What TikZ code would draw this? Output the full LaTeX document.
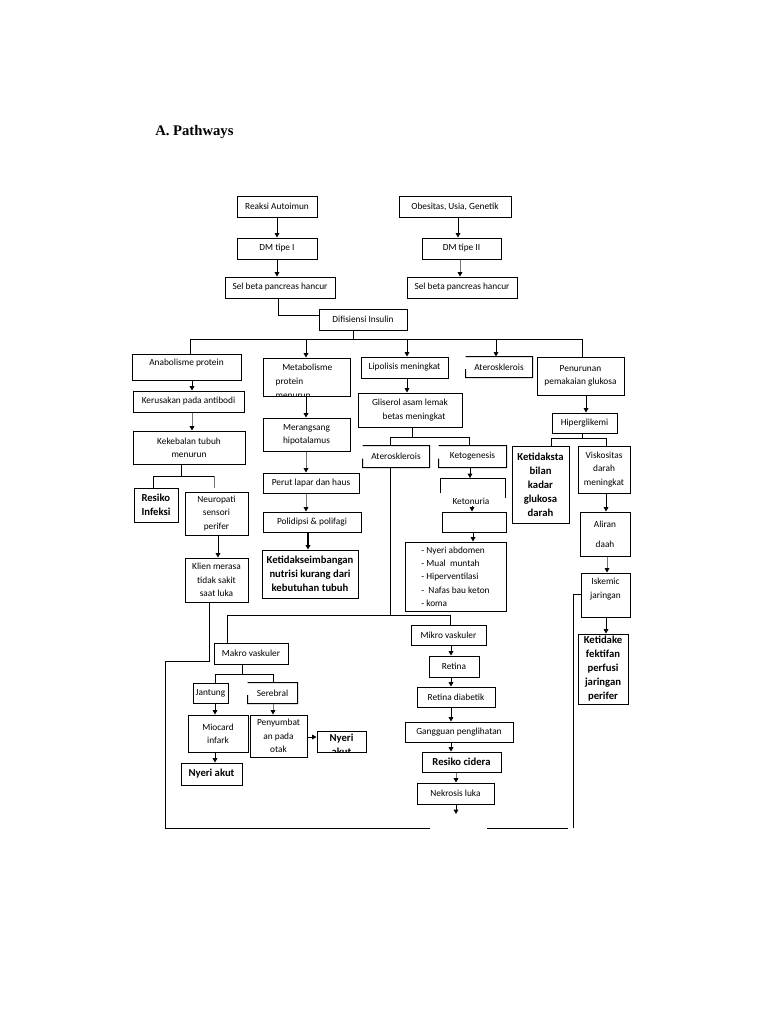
\documentclass[tikz,border=0pt]{standalone}
\usepackage{fontspec}
\setmainfont{Carlito}
\newfontfamily\titlefont{Liberation Serif}
\usetikzlibrary{arrows.meta,calc}
\tikzset{
  txt/.style={inner sep=1pt, align=center, font=\fontsize{7}{10}\selectfont},
  btxt/.style={inner sep=1pt, align=center, font=\bfseries\fontsize{8}{10.5}\selectfont},
  box/.style={txt, draw, line width=0.75pt},
  bbox/.style={box, font=\bfseries\fontsize{8}{10.5}\selectfont},
  ln/.style={line width=0.7pt},
  gln/.style={line width=0.7pt, draw=black!55},
  arr/.style={ln, -{Triangle[length=3.2pt,width=3.4pt]}},
  garr/.style={gln, -{Triangle[length=3.2pt,width=3.4pt,color=black]}},
}
% box with exact pixel extent: [opts]{name}{x1}{y1}{x2}{y2}{text}
\newcommand\bx[7][]{\node[box,minimum width={(#5-#3)*0.75pt},minimum height={(#6-#4)*0.75pt},#1] (#2) at ({(#3+#5)/2},{(#4+#6)/2}) {#7};}
% box with text shifted vertically by #7 px
\newcommand\bxt[8][]{\node[box,minimum width={(#5-#3)*0.75pt},minimum height={(#6-#4)*0.75pt}] (#2) at ({(#3+#5)/2},{(#4+#6)/2}) {};
  \node[txt,#1] (#2-t) at ({(#3+#5)/2},{(#4+#6)/2+#7}) {#8};}
% box drawn with only the lower part of its left side
\newcommand\opensides[1]{\draw[line width=0.75pt] ($(#1.south west)!0.4!(#1.north west)$) -- (#1.south west) -- (#1.south east) -- (#1.north east) -- (#1.north west);}
\begin{document}
\begin{tikzpicture}[x=0.75pt,y=-0.75pt]
\useasboundingbox (0,0) rectangle (768,1024);
\fill[white] (0,0) rectangle (768,1024);

\node[anchor=base west, inner sep=0, font=\titlefont\bfseries\fontsize{11}{13}\selectfont] (title) at (155,135) {A. Pathways};

% top
\bx{reaksi}{237}{196}{317}{217}{Reaksi Autoimun}
\bx{obes}{399}{196}{511}{217}{Obesitas, Usia, Genetik}
\bx{dm1}{237}{238}{317}{259}{DM tipe I}
\bx{dm2}{422}{238}{501}{259}{DM tipe II}
\bx{sel1}{225}{277}{335}{298}{Sel beta pancreas hancur}
\bx{sel2}{407}{277}{517}{298}{Sel beta pancreas hancur}
\bx{difis}{319}{309}{407}{330}{Difisiensi Insulin}

% second row
\bxt{anab}{132}{354}{241}{380}{-4}{Anabolisme protein}
\bx{metab}{263}{358}{350}{396}{}
\begin{scope}
\clip (263,358) rectangle (350,396);
\node[txt, align=left, anchor=north west] (metab-t) at (274,362) {\hspace*{5pt}Metabolisme\\[0.5pt]protein\\[0.5pt]menurun};
\end{scope}
\bx{lipo}{361}{357}{448}{378}{Lipolisis meningkat}
\bx[draw=none]{ater1}{466}{357}{532}{377}{Aterosklerois}
\opensides{ater1}
\bx{penur}{537}{357}{624}{395}{Penurunan\\pemakaian glukosa}

% left column
\bx{kerus}{133}{391}{244}{412}{Kerusakan pada antibodi}
\bx{kekeb}{133}{431}{245}{464}{Kekebalan tubuh\\menurun}
\bx[bbox, align=left]{resiko}{134}{488}{178}{522}{Resiko\\Infeksi}
\bx{neuro}{185}{492}{248}{535}{Neuropati\\sensori\\perifer}
\bx{klien}{185}{558}{248}{602}{Klien merasa\\tidak sakit\\saat luka}

% metabolism column
\bx{meran}{263}{418}{350}{451}{Merangsang\\hipotalamus}
\bx{perut}{263}{473}{359}{493}{Perut lapar dan haus}
\bx{poli}{263}{512}{361}{532}{Polidipsi \& polifagi}
\bx[bbox]{ketid}{262}{550}{358}{598}{Ketidakseimbangan\\nutrisi kurang dari\\kebutuhan tubuh}

% lipolysis column
\bx{glis}{358}{393}{462}{427}{Gliserol asam lemak\\\hspace*{6pt}betas meningkat}
\bx[draw=none]{ater2}{363}{446}{429}{467}{Aterosklerois}
\opensides{ater2}
\bx[draw=none]{keto}{439}{446}{506}{467}{Ketogenesis}
\opensides{keto}
\node[txt] (ketonuria) at (471,501) {Ketonuria};
\bx{ketobox}{442}{512}{506}{532}{}
\bx[align=left]{list}{405}{542}{506}{611}{- Nyeri abdomen\\- Mual\ \ muntah\\- Hiperventilasi\\-\ \ Nafas bau keton\\- koma}

% right column
\bx{hiper}{552}{413}{617}{433}{Hiperglikemi}
\bx[bbox]{kstab}{512}{446}{569}{523}{Ketidaksta\\bilan\\kadar\\glukosa\\darah}
\bx{visk}{578}{446}{630}{493}{Viskositas\\darah\\meningkat}
\bx{aliran}{580}{512}{630}{556}{Aliran\\[5pt]daah}
\bxt{iskem}{581}{573}{630}{617}{-6}{Iskemic\\jaringan}
\bx[bbox]{kefek}{578}{634}{628}{704}{Ketidake\\fektifan\\perfusi\\jaringan\\perifer}

% bottom middle
\bx{mikro}{411}{625}{486}{645}{Mikro vaskuler}
\bx{retina}{429}{656}{479}{677}{Retina}
\bx{retdb}{417}{687}{495}{707}{Retina diabetik}
\bx{gang}{405}{722}{513}{742}{Gangguan penglihatan}
\bx[bbox]{rcid}{422}{752}{501}{772}{Resiko cidera}
\bx{nekro}{417}{783}{494}{804}{Nekrosis luka}

% bottom left
\bx{makro}{214}{643}{288}{664}{Makro vaskuler}
\bx{jant}{193}{683}{228}{703}{Jantung}
\bx[draw=none]{sereb}{248}{683}{297}{703}{Serebral}
\opensides{sereb}
\bx{mioc}{188}{715}{248}{752}{Miocard\\infark}
\bx{peny}{250}{715}{307}{757}{Penyumbat\\an pada\\otak}
\bx[bbox]{nyeri1}{181}{763}{242}{785}{Nyeri akut}
\bx{nyeri2}{317}{731}{366}{752}{}
\begin{scope}
\clip (317,731) rectangle (366,752);
\node[btxt] (nyeri2-t) at (341.5,745) {Nyeri\\akut};
\end{scope}

% ---------- connectors ----------
\draw[arr] (reaksi) -- (dm1);
\draw[arr] (obes.south -| 458,0) -- (dm2.north -| 458,0);
\draw[arr] (dm1.south -| 277,0) -- (sel1.north -| 277,0);
\draw[garr] (dm2.south -| 460,0) -- (sel2.north -| 460,0);
\draw[ln] (sel1.south -| 278,0) |- (difis.west |- 0,315);

\coordinate (busL) at (190,339);
\coordinate (busR) at (582,339);
\draw[ln] (difis.south -| 353,0) -- (353,339);
\draw[ln] (busL) -- (busR);
\draw[ln] (busL) -- (anab.north -| busL);
\draw[arr] (306,339) -- (metab.north -| 306,0);
\draw[arr] (407,339) -- (lipo.north -| 407,0);
\draw[arr] (496,339) -- (ater1.north -| 496,0);
\draw[ln] (busR) -- (penur.north -| busR);

% left column
\draw[arr] (anab.south -| 192,0) -- (kerus.north -| 192,0);
\draw[garr] (kerus.south -| 192,0) -- (kekeb.north -| 192,0);
\draw[ln] (kekeb.south -| 181,0) -- (181,476);
\draw[ln] (153,476) -- (214,476);
\draw[ln] (153,476) -- (resiko.north -| 153,0);
\draw[gln, line width=0.4pt] (214,476) -- (214,488);
\draw[arr] (neuro.south -| 218,0) -- (klien.north -| 218,0);
\draw[ln] (klien.south -| 209,0) -- (209,661) -- (165,661) -- (165,828) -- (430,828);
\draw[ln] (487,828) -- (568,828);
\draw[ln] (573,828) -- (573,594) -- (iskem.west |- 0,594);

% metabolism column
\draw[arr] (metab.south -| 306,0) -- (meran.north -| 306,0);
\draw[garr] (meran.south -| 306,0) -- (perut.north -| 306,0);
\draw[garr] (perut.south -| 306,0) -- (poli.north -| 306,0);
\draw[arr, line width=1pt] (poli.south -| 308,0) -- (ketid.north -| 308,0);

% lipolysis column
\draw[arr] (lipo.south -| 407,0) -- (glis.north -| 407,0);
\draw[ln] (glis.south -| 412,0) -- (412,437);
\draw[ln] (390,437) -- (469,437);
\draw[ln] (390,437) -- (ater2.north -| 390,0);
\draw[ln] (469,437) -- (keto.north -| 469,0);
\draw[ln] (ater2.south -| 390,0) -- (390,615);
\draw[ln] (227,615) -- (450,615);
\draw[ln] (227,615) -- (makro.north -| 227,0);
\draw[ln] (450,615) -- (mikro.north -| 450,0);
\draw[arr] (keto.south -| 470,0) -- (470,478);
\draw[ln] (440,493) -- (440,478) -- (505,478) -- (505,498);
\draw[arr] (ketonuria.south -| 472,0) -- (ketobox.north -| 472,0);
\draw[arr] (ketobox.south -| 473,0) -- (list.north -| 473,0);

% right column
\draw[arr] (penur.south -| 586,0) -- (hiper.north -| 586,0);
\draw[ln] (hiper.south -| 582,0) -- (582,438);
\draw[ln] (551,438) -- (606,438);
\draw[ln] (551,438) -- (kstab.north -| 551,0);
\draw[ln] (606,438) -- (visk.north -| 606,0);
\draw[arr] (visk.south -| 606,0) -- (aliran.north -| 606,0);
\draw[garr] (aliran.south -| 607,0) -- (iskem.north -| 607,0);
\draw[arr] (iskem.south -| 606,0) -- (kefek.north -| 606,0);

% bottom middle
\draw[arr] (mikro.south -| 451,0) -- (retina.north -| 451,0);
\draw[arr] (retina.south -| 451,0) -- (retdb.north -| 451,0);
\draw[arr] (retdb.south -| 451,0) -- (gang.north -| 451,0);
\draw[arr] (gang.south -| 451,0) -- (rcid.north -| 451,0);
\draw[garr] (rcid.south -| 456,0) -- (nekro.north -| 456,0);
\coordinate (nekend) at (456,814);
\draw[arr] (nekro.south -| 456,0) -- (nekend);

% bottom left
\draw[ln] (makro.south -| 242,0) -- (242,674);
\draw[ln] (215,674) -- (273,674);
\draw[ln] (215,674) -- (jant.north -| 215,0);
\draw[ln] (273,674) -- (sereb.north -| 273,0);
\draw[arr] (jant.south -| 215,0) -- (mioc.north -| 215,0);
\draw[arr] (mioc.south -| 215,0) -- (nyeri1.north -| 215,0);
\draw[garr] (sereb.south -| 273,0) -- (peny.north -| 273,0);
\draw[arr] (peny.east |- 0,737) -- (nyeri2.west |- 0,737);
\end{tikzpicture}
\end{document}
